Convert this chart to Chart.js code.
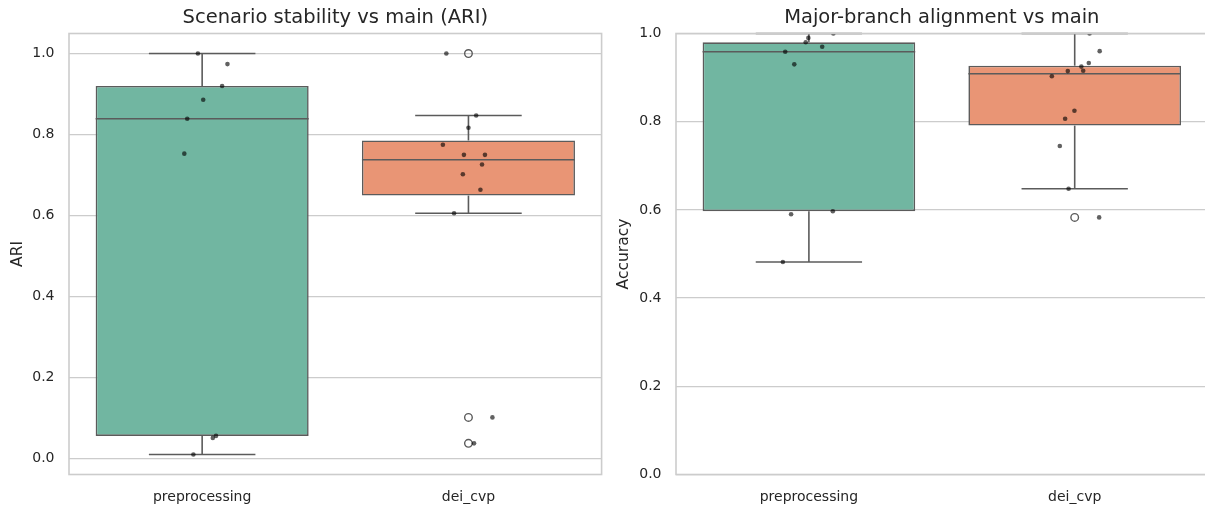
<!DOCTYPE html>
<html>
<head>
<meta charset="utf-8">
<title>Scenario stability vs main</title>
<script src="https://cdn.jsdelivr.net/npm/chart.js@4"></script>
<style>
    html, body { margin: 0; padding: 0; background: #fff; width: 1205px; height: 509px; overflow: hidden; }
    canvas.panel { position: absolute; top: 0; }
    #ari { left: 0; }
    #acc { left: 608px; }
</style>
</head>
<body>
<canvas id="ari" class="panel" width="607" height="509"></canvas>
<canvas id="acc" class="panel" width="605" height="509"></canvas>
<script>
/* ── data ────────────────────────────────────────────────────── */

const groups = ['preprocessing', 'dei_cvp'];
const yTicks = [0, 0.2, 0.4, 0.6, 0.8, 1.0];

/* left panel: ARI per scenario */
const ariPreprocessing    = [1.0, 0.974, 0.920, 0.886, 0.839, 0.753, 0.0564, 0.0515, 0.0106];
const ariPreprocessingJit = [-0.016, 0.095, 0.075, 0.004, -0.056, -0.067, 0.052, 0.040, -0.033];
const ariDeiCvp           = [1.0, 0.847, 0.817, 0.775, 0.750, 0.750, 0.726, 0.702, 0.664, 0.606, 0.102, 0.038];
const ariDeiCvpJit        = [-0.083, 0.029, 0.0, -0.096, -0.017, 0.062, 0.051, -0.021, 0.045, -0.054, 0.090, 0.021];

/* right panel: major-branch accuracy */
const accPreprocessing    = [1.0, 0.990, 0.980, 0.970, 0.9585, 0.930, 0.597, 0.590, 0.482];
const accPreprocessingJit = [0.092, -0.002, -0.012, 0.050, -0.089, -0.055, 0.090, -0.067, -0.098];
const accDeiCvp           = [1.0, 0.960, 0.933, 0.925, 0.9147, 0.9154, 0.903, 0.825, 0.8066, 0.745, 0.648, 0.583];
const accDeiCvpJit        = [0.056, 0.094, 0.053, 0.025, -0.026, 0.032, -0.086, -0.001, -0.036, -0.056, -0.023, 0.092];

/* ── look ─────────────────────────────────────────────────── */

const BOX_COLORS = ['#71b6a1', '#e99575'];
const LINE  = '#5b5b5b';
const GRID  = '#cccccc';
const TEXT  = '#262626';
const FONT  = "'DejaVu Sans', sans-serif";

Chart.defaults.font.family = FONT;
Chart.defaults.color = TEXT;
Chart.defaults.animation = false;

/* ── helpers ──────────────────────────────────────────────── */

function quantile(sorted, p) {
    const pos = (sorted.length - 1) * p;
    const lo = Math.floor(pos), hi = Math.ceil(pos);
    return sorted[lo] + (sorted[hi] - sorted[lo]) * (pos - lo);
}

/* seaborn-style box stats: linear quartiles, 1.5*IQR whiskers */
function boxStats(vals) {
    const s = [...vals].sort((a, b) => a - b);
    const q1 = quantile(s, 0.25), med = quantile(s, 0.5), q3 = quantile(s, 0.75);
    const lowF = q1 - 1.5 * (q3 - q1), highF = q3 + 1.5 * (q3 - q1);
    const inside = s.filter(v => v >= lowF && v <= highF);
    return {
        q1, med, q3,
        lo: inside[0],
        hi: inside[inside.length - 1],
        fliers: s.filter(v => v < lowF || v > highF)
    };
}

/* frame round the plot area (seaborn whitegrid spines) */
const framePlugin = {
    id: 'frame',
    afterDraw(ch) {
        const { ctx, chartArea: a } = ch;
        ctx.save();
        ctx.strokeStyle = GRID;
        ctx.lineWidth = 1.6;
        ctx.strokeRect(a.left, a.top, a.right - a.left, a.bottom - a.top);
        ctx.restore();
    }
};

/* ── one panel ────────────────────────────────────────────── */

function makePanel(canvasId, title, yTitle, series, jitter, yRange, yTitlePad) {
    const stats = series.map(boxStats);

    const strip = [];
    series.forEach((vals, i) => vals.forEach((v, k) => strip.push({ x: i + jitter[i][k], y: v })));
    const fliers = [];
    stats.forEach((s, i) => s.fliers.forEach(v => fliers.push({ x: i, y: v })));

    /* whiskers, caps and medians, drawn right after the boxes */
    const whiskerPlugin = {
        id: 'whiskers',
        afterDatasetDraw(ch, args) {
            if (args.meta.type !== 'bar') return;
            const { ctx, scales: { x, y } } = ch;
            ctx.save();
            ctx.strokeStyle = LINE;
            ctx.lineWidth = 1.6;
            ctx.lineCap = 'butt';
            stats.forEach((s, i) => {
                const cx = x.getPixelForValue(i);
                const line = (x0, y0, x1, y1) => {
                    ctx.beginPath(); ctx.moveTo(x0, y0); ctx.lineTo(x1, y1); ctx.stroke();
                };
                line(cx, y.getPixelForValue(s.q3), cx, y.getPixelForValue(s.hi));
                line(cx, y.getPixelForValue(s.q1), cx, y.getPixelForValue(s.lo));
                line(x.getPixelForValue(i - 0.2), y.getPixelForValue(s.hi), x.getPixelForValue(i + 0.2), y.getPixelForValue(s.hi));
                line(x.getPixelForValue(i - 0.2), y.getPixelForValue(s.lo), x.getPixelForValue(i + 0.2), y.getPixelForValue(s.lo));
                line(x.getPixelForValue(i - 0.4), y.getPixelForValue(s.med), x.getPixelForValue(i + 0.4), y.getPixelForValue(s.med));
            });
            ctx.restore();
        }
    };

    return new Chart(document.getElementById(canvasId), {
        type: 'bar',
        data: {
            datasets: [
                {
                    type: 'scatter', order: 0, data: strip,
                    pointRadius: 2.3, pointBackgroundColor: 'rgba(0,0,0,0.62)', pointBorderWidth: 0
                },
                {
                    type: 'scatter', order: 1, data: fliers,
                    pointRadius: 3.8, pointBackgroundColor: 'rgba(0,0,0,0)',
                    pointBorderColor: LINE, pointBorderWidth: 1.4
                },
                {
                    type: 'bar', order: 2,
                    data: stats.map((s, i) => ({ x: i, y: [s.q1, s.q3] })),
                    backgroundColor: BOX_COLORS, borderColor: LINE, borderWidth: 1.6,
                    borderSkipped: false, barPercentage: 0.8, categoryPercentage: 1
                }
            ]
        },
        options: {
            responsive: false,
            devicePixelRatio: 1,
            layout: { padding: 0 },
            plugins: {
                legend: { display: false },
                tooltip: { enabled: false },
                title: {
                    display: true, text: title, color: TEXT, fullSize: false,
                    font: { size: 19.5, weight: 'normal', lineHeight: 1.2 },
                    padding: { top: 6, bottom: 4.1 }
                }
            },
            scales: {
                x: {
                    type: 'linear', min: -0.5, max: 1.5, offset: false,
                    afterBuildTicks: s => { s.ticks = groups.map((g, i) => ({ value: i })); },
                    afterFit: s => { s.height = 34.5; },
                    grid: { display: false },
                    border: { display: false },
                    ticks: { callback: v => groups[v], font: { size: 14 }, color: TEXT, padding: 6, maxRotation: 0 }
                },
                y: {
                    type: 'linear', min: yRange[0], max: yRange[1],
                    afterBuildTicks: s => { s.ticks = yTicks.map(v => ({ value: v })); },
                    afterFit: s => { s.width = canvasId === 'ari' ? 69 : 68; },
                    grid: { color: GRID, lineWidth: 1.2, drawTicks: false },
                    border: { display: false },
                    ticks: { callback: v => v.toFixed(1), font: { size: 14 }, color: TEXT, padding: 14.5 },
                    title: {
                        display: true, text: yTitle, color: TEXT,
                        font: { size: 15.5, lineHeight: 1.2 },
                        padding: { top: yTitlePad, bottom: 0 }
                    }
                }
            }
        },
        plugins: [whiskerPlugin, framePlugin]
    });
}

/* left panel autoscales like matplotlib (5 % margin), right is 0..1 */
const ariAll = ariPreprocessing.concat(ariDeiCvp);
const ariMin = Math.min(...ariAll), ariMax = Math.max(...ariAll);
const ariPad = (ariMax - ariMin) * 0.05;

makePanel('ari', 'Scenario stability vs main (ARI)', 'ARI',
    [ariPreprocessing, ariDeiCvp], [ariPreprocessingJit, ariDeiCvpJit],
    [ariMin - ariPad, ariMax + ariPad], 9);

makePanel('acc', 'Major-branch alignment vs main', 'Accuracy',
    [accPreprocessing, accDeiCvp], [accPreprocessingJit, accDeiCvpJit],
    [0, 1.0], 6.7);
</script>
</body>
</html>
